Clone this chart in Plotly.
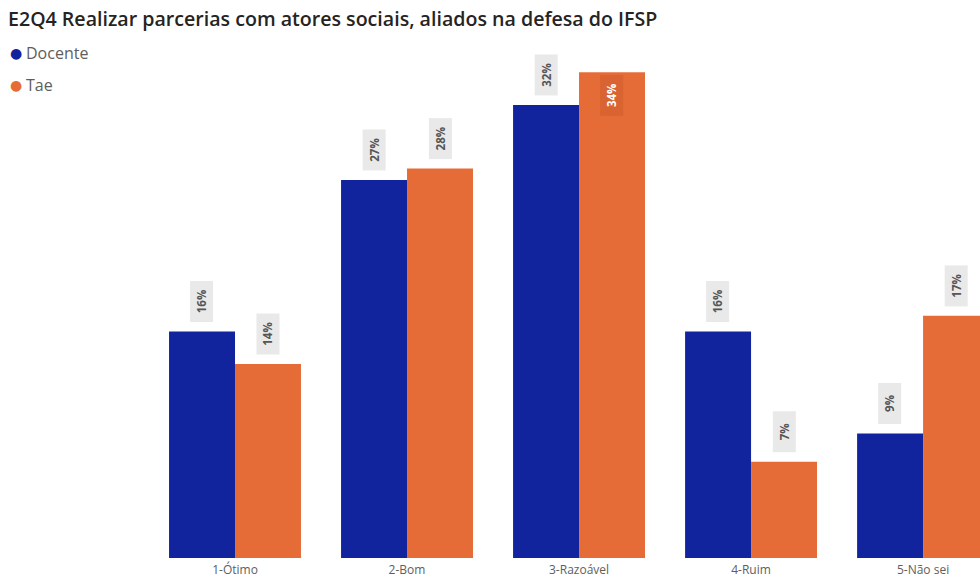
import plotly.graph_objects as go

categories = ["1-Ótimo", "2-Bom", "3-Razoável", "4-Ruim", "5-Não sei"]
docente = [16.0, 26.7, 32.0, 16.0, 8.8]
tae = [13.7, 27.5, 34.3, 6.8, 17.1]
series_names = ["Docente", "Tae"]
colors = ["#12239E", "#E66C37"]

W, H = 980, 578
ML, MR, MT, MB = 149, 0, 60, 20
YMAX = 35.17
XMAX = 4.331
BARGAP = 0.233
PW, PH = W - ML - MR, H - MT - MB


def px_x(px):
    return (px - ML) / PW


def px_y(py):
    return (H - MB - py) / PH


fig = go.Figure()
for name, vals, col in zip(series_names, [docente, tae], colors):
    fig.add_trace(go.Bar(
        x=list(range(len(categories))), y=vals, name=name,
        marker=dict(color=col, line=dict(width=0)),
        showlegend=False, hoverinfo="skip",
    ))

# legend drawn as annotations (circle marker + name)
legend_y = [53, 85]
for name, col, ly in zip(series_names, colors, legend_y):
    fig.add_annotation(
        x=px_x(16), y=px_y(ly), xref="paper", yref="paper",
        text="●", showarrow=False, xanchor="center", yanchor="middle",
        font=dict(family="DejaVu Sans, sans-serif", size=14, color=col),
    )
    fig.add_annotation(
        x=px_x(24), y=px_y(ly), xref="paper", yref="paper",
        text=name, showarrow=False, xanchor="left", yanchor="middle",
        font=dict(family="Open Sans, sans-serif", size=16, color="#605E5C"),
    )

# data labels
px_per_unit = PH / YMAX
LABEL_PX = 51  # gap + box height
half = (1 - BARGAP) / 4
for s, (vals, col) in enumerate(zip([docente, tae], colors)):
    off = -half if s == 0 else half
    for i, v in enumerate(vals):
        txt = f"<b>{round(v)}%</b>"
        bar_top_px = H - MB - v * px_per_unit
        inside = bar_top_px - LABEL_PX < 40
        fig.add_annotation(
            x=i + off, y=v, xref="x", yref="y",
            text=txt, textangle=-90, showarrow=False,
            font=dict(family="Open Sans, sans-serif", size=11.5,
                      color="#FFFFFF" if inside else "#555555"),
            bgcolor="rgba(205,95,45,0.55)" if inside else "#E9E9E9",
            xanchor="center",
            yanchor="top" if inside else "bottom",
            yshift=-2 if inside else 9,
            width=34, height=16, borderpad=3,
        )

fig.update_layout(
    width=W, height=H,
    margin=dict(l=ML, r=MR, t=MT, b=MB),
    paper_bgcolor="white", plot_bgcolor="white",
    barmode="group", bargap=BARGAP, bargroupgap=0,
    showlegend=False,
    title=dict(
        text="E2Q4 Realizar parcerias com atores sociais, aliados na defesa do IFSP",
        x=8 / W, xanchor="left", xref="container",
        y=1 - 19 / H, yanchor="middle", yref="container",
        font=dict(family="Open Sans, sans-serif", size=19.6, color="#252423", weight=600),
    ),
    xaxis=dict(
        range=[-0.5, XMAX], tickmode="array",
        tickvals=list(range(len(categories))), ticktext=categories,
        showgrid=False, zeroline=False, showline=False, ticks="",
        tickfont=dict(family="Open Sans, sans-serif", size=12, color="#605E5C"),
        ticklabelstandoff=3,
        automargin=False, fixedrange=True,
    ),
    yaxis=dict(
        range=[0, YMAX], visible=False, showgrid=False, zeroline=False,
        automargin=False, fixedrange=True,
    ),
)

fig.write_html(
    "out.html",
    config={"displayModeBar": False},
    post_script="document.body.style.margin='0';document.body.style.overflow='hidden';",
)
